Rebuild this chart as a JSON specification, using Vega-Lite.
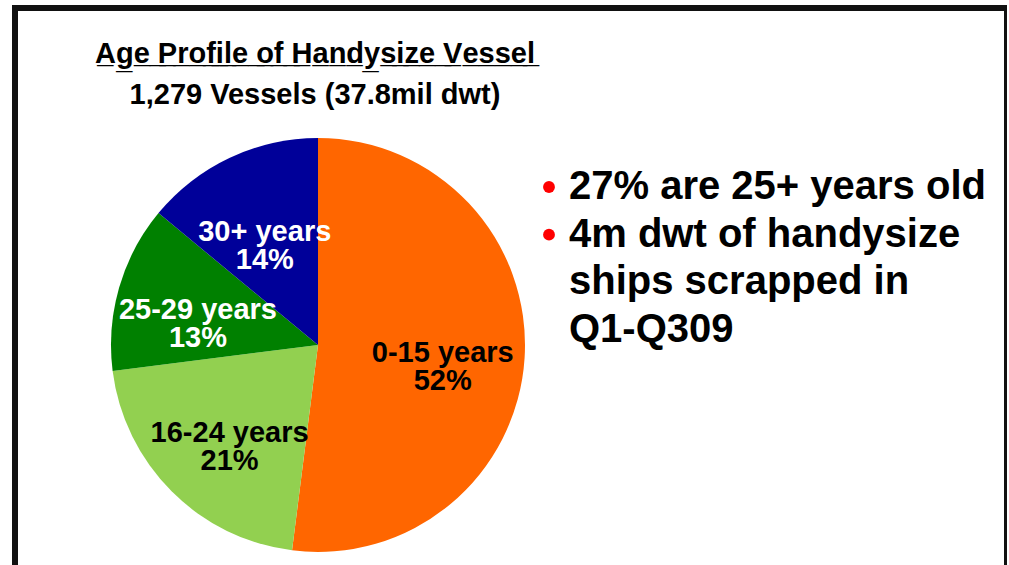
{
  "$schema": "https://vega.github.io/schema/vega-lite/v6.json",
  "width": 992,
  "height": 674,
  "padding": {"left": 15, "top": 8, "right": 0, "bottom": 0},
  "background": "white",
  "config": {
    "font": "Liberation Sans",
    "view": {"stroke": "#111111", "strokeWidth": 6}
  },
  "title": {
    "text": "A\u0332g\u0332e\u0332 \u0332P\u0332r\u0332o\u0332f\u0332i\u0332l\u0332e\u0332 \u0332o\u0332f\u0332 \u0332H\u0332a\u0332n\u0332d\u0332y\u0332s\u0332i\u0332z\u0332e\u0332 \u0332V\u0332e\u0332s\u0332s\u0332e\u0332l\u0332",
    "subtitle": "1,279 Vessels (37.8mil dwt)",
    "anchor": "middle",
    "dx": -196,
    "offset": -102,
    "font": "Liberation Sans",
    "fontSize": 29,
    "fontWeight": "bold",
    "color": "black",
    "subtitleFont": "Liberation Sans",
    "subtitleFontSize": 29,
    "subtitleFontWeight": "bold",
    "subtitleColor": "black",
    "subtitlePadding": 12
  },
  "layer": [
    {
      "data": {
        "values": [
          {"category": "0-15 years", "pct": 52, "ord": 1, "label": ["0-15 years", "52%"]},
          {"category": "16-24 years", "pct": 21, "ord": 2, "label": ["16-24 years", "21%"]},
          {"category": "25-29 years", "pct": 13, "ord": 3, "label": ["25-29 years", "13%"]},
          {"category": "30+ years", "pct": 14, "ord": 4, "label": ["30+ years", "14%"]}
        ]
      },
      "layer": [
        {
          "mark": {"type": "arc", "outerRadius": 207},
          "encoding": {
            "x": {"datum": "pie", "type": "nominal", "scale": {"domain": ["pie", "text"], "range": [303, 534], "padding": 0}, "axis": null},
            "theta": {"field": "pct", "type": "quantitative", "stack": true},
            "order": {"field": "ord", "type": "quantitative"},
            "color": {
              "field": "category",
              "type": "nominal",
              "scale": {
                "domain": ["0-15 years", "16-24 years", "25-29 years", "30+ years"],
                "range": ["#FF6600", "#92D050", "#008000", "#000099"]
              },
              "legend": null
            }
          }
        },
        {
          "mark": {"type": "text", "radius": 125, "fontSize": 29, "fontWeight": "bold", "lineHeight": 28, "align": "center", "baseline": "middle"},
          "encoding": {
            "x": {"datum": "pie", "type": "nominal", "scale": {"domain": ["pie", "text"], "range": [303, 534], "padding": 0}, "axis": null},
            "theta": {"field": "pct", "type": "quantitative", "stack": true},
            "order": {"field": "ord", "type": "quantitative"},
            "text": {"field": "label"},
            "color": {"condition": {"test": "datum.ord > 2", "value": "white"}, "value": "black"}
          }
        }
      ]
    },
    {
      "data": {
        "values": [
          {"line": "l1", "text": "27% are 25+ years old", "bullet": true},
          {"line": "l2", "text": "4m dwt of handysize", "bullet": true},
          {"line": "l3", "text": "ships scrapped in", "bullet": false},
          {"line": "l4", "text": "Q1-Q309", "bullet": false}
        ]
      },
      "layer": [
        {
          "transform": [{"filter": "datum.bullet"}],
          "mark": {"type": "point", "shape": "circle", "filled": true, "opacity": 1, "size": 140, "color": "#FF0000"},
          "encoding": {
            "x": {"datum": "text", "type": "nominal", "scale": {"domain": ["pie", "text"], "range": [303, 534], "padding": 0}, "axis": null},
            "y": {"field": "line", "type": "nominal", "scale": {"domain": ["l1", "l2", "l3", "l4"], "range": [179, 322], "padding": 0}, "axis": null}
          }
        },
        {
          "mark": {"type": "text", "align": "left", "baseline": "middle", "dx": 20, "fontSize": 40, "fontWeight": "bold", "color": "black"},
          "encoding": {
            "x": {"datum": "text", "type": "nominal", "scale": {"domain": ["pie", "text"], "range": [303, 534], "padding": 0}, "axis": null},
            "y": {"field": "line", "type": "nominal", "scale": {"domain": ["l1", "l2", "l3", "l4"], "range": [179, 322], "padding": 0}, "axis": null},
            "text": {"field": "text"}
          }
        }
      ]
    }
  ]
}
